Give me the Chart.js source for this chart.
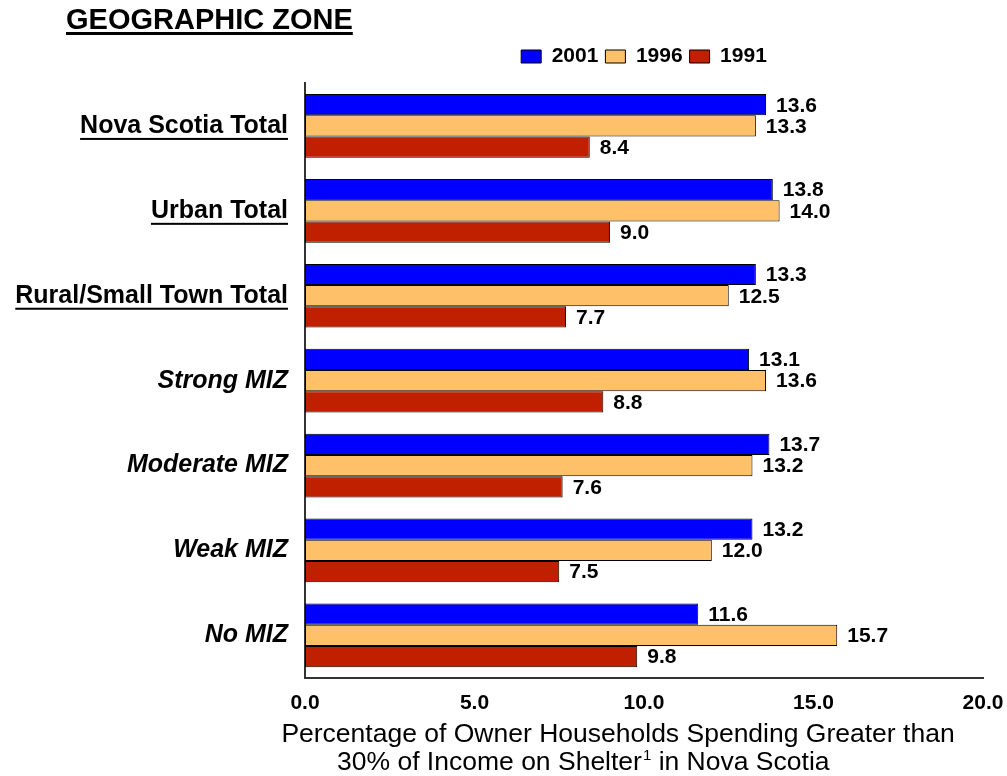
<!DOCTYPE html>
<html>
<head>
<meta charset="utf-8">
<script src="https://cdn.jsdelivr.net/npm/chart.js@4.4.0/dist/chart.umd.min.js"></script>
<style>
  body { margin: 0; background: #fff; }
  #wrap { width: 1007px; height: 776px; position: relative; }
</style>
</head>
<body>
<div id="wrap"><canvas id="zoneChart"></canvas></div>
<script>
// DATA
const zones = ['Nova Scotia Total', 'Urban Total', 'Rural/Small Town Total', 'Strong MIZ', 'Moderate MIZ', 'Weak MIZ', 'No MIZ'];
const years = ['2001', '1996', '1991'];
const pct2001 = [13.6, 13.8, 13.3, 13.1, 13.7, 13.2, 11.6];
const pct1996 = [13.3, 14.0, 12.5, 13.6, 13.2, 12.0, 15.7];
const pct1991 = [8.4, 9.0, 7.7, 8.8, 7.6, 7.5, 9.8];
const xTicks = [0, 5, 10, 15, 20];
const totalRows = 3; // first three rows are totals (underlined labels)

const FONT = "'Liberation Sans', Arial, sans-serif";
Chart.defaults.font.family = FONT;
Chart.defaults.color = '#000';

// value labels at the end of each bar
const valueLabels = {
    id: 'valueLabels',
    afterDatasetsDraw(chart) {
        const ctx = chart.ctx;
        ctx.save();
        ctx.font = 'bold 21px ' + FONT;
        ctx.fillStyle = '#000';
        ctx.textAlign = 'left';
        ctx.textBaseline = 'middle';
        chart.data.datasets.forEach((ds, i) => {
            chart.getDatasetMeta(i).data.forEach((bar, j) => {
                ctx.fillText(ds.data[j].toFixed(1), bar.x + 10, bar.y + 1);
            });
        });
        ctx.restore();
    }
};

// heading, underlines and the x axis caption
const decorations = {
    id: 'decorations',
    afterDraw(chart) {
        const ctx = chart.ctx;
        const area = chart.chartArea;
        ctx.save();
        ctx.fillStyle = '#000';

        // heading
        ctx.font = 'bold 29px ' + FONT;
        ctx.textAlign = 'left';
        ctx.textBaseline = 'alphabetic';
        ctx.fillText('GEOGRAPHIC ZONE', 66, 29);
        let w = ctx.measureText('GEOGRAPHIC ZONE').width;
        ctx.fillRect(66, 32, w, 3);

        // underline the total rows
        const y = chart.scales.y;
        ctx.font = 'bold 25px ' + FONT;
        for (let i = 0; i < totalRows; i++) {
            const py = y.getPixelForTick(i);
            w = ctx.measureText(zones[i]).width;
            ctx.fillRect(y.right - 17 - w, py + 12, w, 2);
        }

        // x caption
        ctx.font = '26.5px ' + FONT;
        ctx.textAlign = 'center';
        const mid = (area.left + area.right) / 2;
        ctx.fillText('Percentage of Owner Households Spending Greater than', mid - 26, 742);
        ctx.textAlign = 'left';
        let x = area.left + 32;
        const part1 = '30% of Income on Shelter';
        ctx.fillText(part1, x, 770);
        x += ctx.measureText(part1).width;
        ctx.font = '15px ' + FONT;
        ctx.fillText('1', x + 1, 760);
        x += ctx.measureText('1').width + 1;
        ctx.font = '26.5px ' + FONT;
        ctx.fillText(' in Nova Scotia', x, 770);
        ctx.restore();
    }
};

const ctx1 = document.querySelector('#zoneChart').getContext('2d');

let zoneChart = new Chart(ctx1, {
    type: 'bar',
    data: {
        labels: zones,
        datasets: [
            { label: years[0], data: pct2001, backgroundColor: '#0000ff', borderColor: '#000', borderWidth: 1 },
            { label: years[1], data: pct1996, backgroundColor: '#ffc06a', borderColor: '#000', borderWidth: 1 },
            { label: years[2], data: pct1991, backgroundColor: '#c02000', borderColor: '#000', borderWidth: 1 }
        ]
    },
    options: {
        indexAxis: 'y',
        responsive: true,
        maintainAspectRatio: false,
        animation: false,
        layout: { padding: { top: 39, right: 24, bottom: 60, left: 0 } },
        datasets: {
            bar: { categoryPercentage: 0.75, barPercentage: 1.0, borderSkipped: false }
        },
        plugins: {
            legend: {
                position: 'top',
                fullSize: false,
                labels: {
                    boxWidth: 20,
                    boxHeight: 13,
                    padding: 7,
                    font: { size: 21, weight: 'bold' },
                    color: '#000'
                }
            },
            // empty subtitle, just a gap between legend and bars
            subtitle: { display: true, text: '', fullSize: false, weight: 500, padding: 0, font: { size: 5.4 } },
            title: { display: false },
            tooltip: { enabled: false }
        },
        scales: {
            x: {
                min: xTicks[0],
                max: xTicks[xTicks.length - 1],
                afterBuildTicks: s => { s.ticks = xTicks.map(v => ({ value: v })); },
                grid: { display: false, drawTicks: true, tickLength: 13 },
                border: { display: true, color: '#333', width: 2 },
                ticks: {
                    padding: 0,
                    font: { size: 21, weight: 'bold' },
                    color: '#000',
                    callback: v => Number(v).toFixed(1)
                }
            },
            y: {
                afterFit: s => { s.width = 305; },
                grid: { display: false, drawTicks: false },
                border: { display: true, color: '#333', width: 2 },
                ticks: {
                    padding: 17,
                    color: '#000',
                    font: c => ({ size: 25, weight: 'bold', style: c.index >= totalRows ? 'italic' : 'normal' })
                }
            }
        }
    },
    plugins: [valueLabels, decorations]
});
</script>
</body>
</html>
